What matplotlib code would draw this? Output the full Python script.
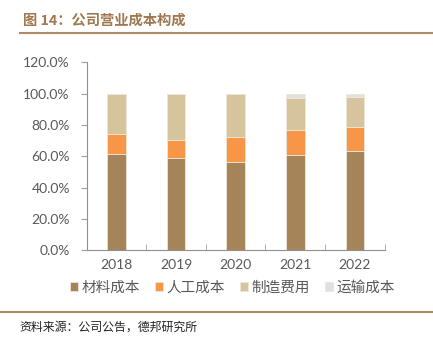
import matplotlib
matplotlib.use('Agg')
import matplotlib.pyplot as plt
import numpy as np
from matplotlib.ticker import FuncFormatter

plt.rcParams['font.family'] = ['Lato', 'Noto Sans CJK SC', 'DejaVu Sans']

years = ['2018', '2019', '2020', '2021', '2022']
material = [61.5, 58.7, 56.6, 60.6, 63.2]
labor = [13.0, 11.9, 15.5, 16.0, 15.5]
manufacturing = [25.5, 29.4, 27.9, 20.8, 19.3]
transport = [0.0, 0.0, 0.0, 2.6, 2.0]

names = ['材料成本', '人工成本', '制造费用', '运输成本']
colors = ['#A6845A', '#F79646', '#D5C49C', '#E0E0E0']

fig = plt.figure(figsize=(4.33, 3.42), dpi=100)
ax = fig.add_axes([0.1998, 0.2681, 0.6887, 0.5497])

x = np.arange(len(years))
bottom = np.zeros(len(years))
for vals, name, c in zip([material, labor, manufacturing, transport], names, colors):
	ax.bar(x, vals, 0.31, bottom=bottom, color=c, label=name,
		edgecolor='#EFE6D8', linewidth=0.6)
	bottom += np.array(vals)

ax.set_xlim(-0.5, len(years) - 0.5)
ax.set_ylim(0, 120)
ax.set_yticks(np.arange(0, 121, 20))
ax.yaxis.set_major_formatter(FuncFormatter(lambda v, p: f'{v:.1f}%'))
ax.set_xticks(x)
ax.set_xticklabels(years)
ax.set_xticks(np.arange(-0.5, len(years), 1), minor=True)
ax.tick_params(axis='x', which='major', length=0, pad=6, labelsize=10, colors='#595959')
ax.tick_params(axis='x', which='minor', length=4, direction='in', color='#A0A0A0')
ax.tick_params(axis='y', length=4, direction='out', color='#A0A0A0', labelsize=10, labelcolor='#595959', pad=8)
for s in ['top', 'right']:
	ax.spines[s].set_visible(False)
ax.spines['left'].set_color('#909090')
ax.spines['bottom'].set_color('#909090')
ax.spines['left'].set_linewidth(0.8)
ax.spines['bottom'].set_linewidth(0.8)

leg = ax.legend(loc='upper center', bbox_to_anchor=(0.49, -0.09), ncol=4, frameon=False,
	handlelength=0.55, handleheight=0.55, handletextpad=0.25, columnspacing=1.0,
	prop={'family': ['Noto Sans CJK SC'], 'size': 10.5, 'weight': 'light'})
for t in leg.get_texts():
	t.set_color('#595959')

brown = '#A07850'
fig.text(0.052, 0.94, '图 14：公司营业成本构成', fontsize=10.3, fontweight='bold',
	color=brown, family=['Noto Sans CJK SC'], va='center')
fig.add_artist(plt.Line2D([0.046, 1.0], [0.903, 0.903], color='#B08A66', linewidth=1.5))
fig.add_artist(plt.Line2D([0.0, 1.0], [0.088, 0.088], color='#B08A66', linewidth=1.5))
fig.text(0.046, 0.044, '资料来源：公司公告，德邦研究所', fontsize=8.6, color='#222222',
	family=['Noto Sans CJK SC'], va='center')

fig.savefig('out.png', dpi=100)
